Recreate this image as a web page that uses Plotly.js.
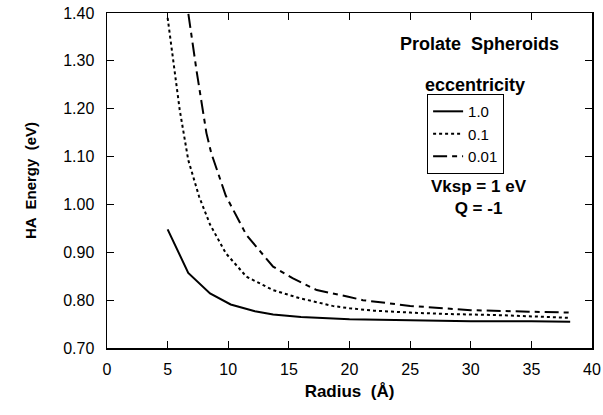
<!DOCTYPE html>
<html>
<head>
<meta charset="utf-8">
<script src="https://cdn.plot.ly/plotly-3.0.1.min.js"></script>
<style>html,body{margin:0;padding:0;background:#fff;}#chart{width:603px;height:415px;}</style>
</head>
<body>
<div id="chart"></div>
<script>
// Data
const seriesNames = ["1.0", "0.1", "0.01"];
const radiusE1 = [5, 6.7, 8.5, 10.2, 12.2, 13.7, 16, 18, 20, 25, 30, 35, 38.2];
const energyE1 = [0.948, 0.857, 0.814, 0.791, 0.777, 0.770, 0.765, 0.762, 0.760, 0.758, 0.756, 0.756, 0.755];
const radiusE01 = [5, 6, 6.7, 7.6, 8.5, 9.8, 11.5, 13.7, 15.9, 18.6, 20, 22, 25, 28, 32, 35, 38.2];
const energyE01 = [1.39, 1.197, 1.093, 1.016, 0.958, 0.898, 0.849, 0.821, 0.804, 0.788, 0.783, 0.778, 0.774, 0.771, 0.769, 0.766, 0.763];
const radiusE001 = [5, 6.7, 7.4, 8.2, 8.6, 9.8, 11.5, 13.1, 13.7, 15.3, 17.3, 19.9, 21.1, 25, 30, 34.8, 38.2];
const energyE001 = [1.82, 1.40, 1.277, 1.149, 1.107, 1.018, 0.936, 0.887, 0.870, 0.846, 0.821, 0.807, 0.800, 0.788, 0.779, 0.776, 0.774];
const xTicks = [0, 5, 10, 15, 20, 25, 30, 35, 40];
const yTicks = [0.70, 0.80, 0.90, 1.00, 1.10, 1.20, 1.30, 1.40];

const FONT = "Liberation Sans, Arial, Helvetica, sans-serif";

const traces = [
  {x: radiusE1, y: energyE1, name: seriesNames[0], mode: "lines",
   line: {color: "#000", width: 2, dash: "solid"}},
  {x: radiusE01, y: energyE01, name: seriesNames[1], mode: "lines",
   line: {color: "#000", width: 2, dash: "dot"}},
  {x: radiusE001, y: energyE001, name: seriesNames[2], mode: "lines",
   line: {color: "#000", width: 2, dash: "14px,5px,5px,5px"}}
];

const axisCommon = {
  showgrid: false, zeroline: false, showline: true, linecolor: "#000", linewidth: 1.5,
  mirror: "ticks", ticks: "inside", ticklen: 7, tickwidth: 1.2, tickcolor: "#000",
  tickfont: {family: FONT, size: 16, color: "#000"}
};

const layout = {
  width: 603, height: 415,
  margin: {l: 107, r: 11, t: 13, b: 67},
  paper_bgcolor: "#fff", plot_bgcolor: "#fff",
  showlegend: true,
  legend: {
    x: 0.66, y: 0.758, xanchor: "left", yanchor: "top",
    bordercolor: "#000", borderwidth: 1, bgcolor: "#fff",
    font: {family: FONT, size: 15, color: "#000"},
    tracegroupgap: 0, itemwidth: 30, entrywidth: 60
  },
  xaxis: Object.assign({}, axisCommon, {
    range: [0, 40], tickvals: xTicks, ticktext: xTicks.map(String), ticklabelstandoff: 6,
    title: {text: "<b>Radius  (Å)</b>", font: {family: FONT, size: 17, color: "#000"}, standoff: 8}
  }),
  yaxis: Object.assign({}, axisCommon, {
    range: [0.70, 1.40], tickvals: yTicks, ticktext: yTicks.map(v => v.toFixed(2)),
    ticklabelstandoff: 8,
    title: {text: "<b>HA  Energy  (eV)</b>", font: {family: FONT, size: 15, color: "#000"}, standoff: 23}
  }),
  annotations: [
    {text: "<b>Prolate  Spheroids</b>", xref: "paper", yref: "paper", x: 0.768, y: 0.907,
     xanchor: "center", yanchor: "middle", showarrow: false, font: {family: FONT, size: 18, color: "#000"}},
    {text: "<b>eccentricity</b>", xref: "paper", yref: "paper", x: 0.759, y: 0.785,
     xanchor: "center", yanchor: "middle", showarrow: false, font: {family: FONT, size: 18, color: "#000"}},
    {text: "<b>Vksp = 1 eV<br>Q = -1</b>", xref: "paper", yref: "paper", x: 0.768, y: 0.448,
     xanchor: "center", yanchor: "middle", showarrow: false, font: {family: FONT, size: 17, color: "#000"}}
  ]
};

Plotly.newPlot("chart", traces, layout, {displayModeBar: false, staticPlot: true});
</script>
</body>
</html>
